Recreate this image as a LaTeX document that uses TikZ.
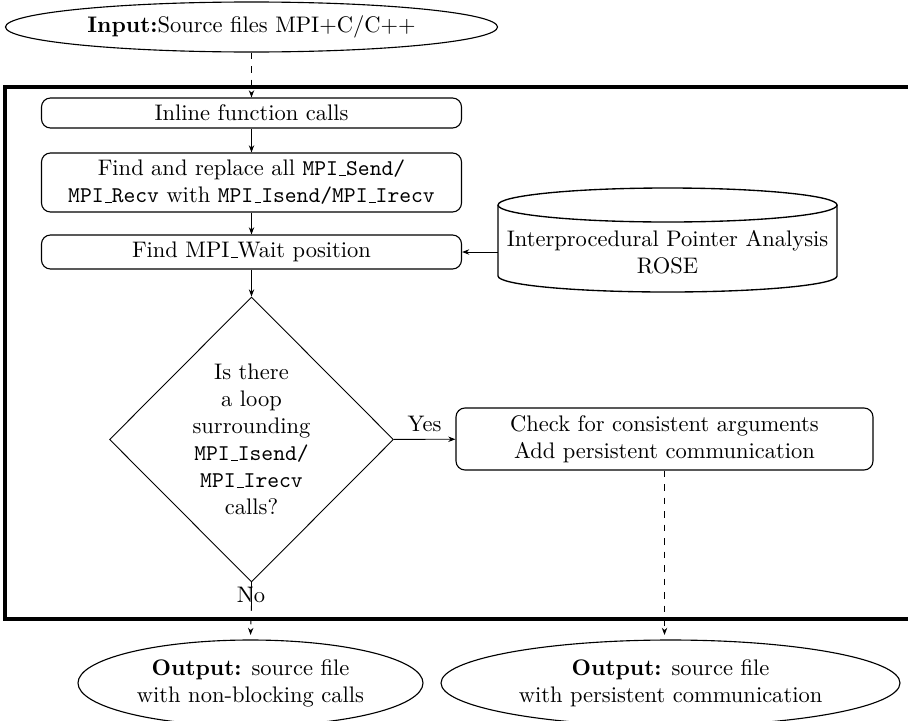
\documentclass[tikz,border=0pt]{standalone}
\usetikzlibrary{shapes.geometric,arrows.meta}
\def\u{0.4444pt}
% underscore drawn as a short baseline rule
\newcommand\usc{\leavevmode\kern.06em\vbox{\hrule width.3em}}
\begin{document}
\begin{tikzpicture}[x=\u, y=-\u,
  process/.style={draw, rounded corners=4pt, line width=0.5pt, inner sep=0pt, align=center},
  terminal/.style={draw, ellipse, line width=0.5pt, inner sep=0pt, align=center},
  decision/.style={draw, diamond, aspect=1, inner sep=0pt, align=center},
  flow/.style={-{Stealth[length=3.2pt,width=2.4pt]}},
  dashflow/.style={flow, dashed},
  frame/.style={line width=1.4pt}]
\useasboundingbox (0,0) rectangle (908,720);
\clip (0,0) rectangle (908,720);

% input
\node[terminal, minimum width=492*\u, minimum height=50*\u] (in) at (251.5,27)
  {\textbf{Input:}Source files MPI+C/C++};

% transformation steps
\node[process, minimum width=420*\u, minimum height=30*\u] (inl) at (251.5,113)
  {Inline function calls};
\node[process, minimum width=420*\u, minimum height=59*\u] (find) at (251.5,182.5)
  {Find and replace all \texttt{MPI\usc Send/}\\\texttt{MPI\usc Recv} with \texttt{MPI\usc Isend/MPI\usc Irecv}};
\node[process, minimum width=420*\u, minimum height=34*\u] (wait) at (251.5,252)
  {Find MPI\usc Wait position};

% pointer analysis database
\node[minimum width=339*\u, minimum height=71*\u, inner sep=0pt, align=center] (rose) at (667.5,252)
  {Interprocedural Pointer Analysis\\ROSE};
\draw[line width=0.6pt] (498,205) -- (498,276)
  arc[start angle=180, end angle=0, x radius=169.5, y radius=16] -- (837,205);
\draw[line width=0.6pt] (667.5,205) ellipse[x radius=169.5, y radius=17];

% decision
\node[decision, minimum width=284*\u, minimum height=285*\u] (dec) at (251.5,439.5)
  {Is there\\a loop\\surrounding\\\texttt{MPI\usc Isend/}\\\texttt{MPI\usc Irecv}\\calls?};
\node[process, minimum width=417*\u, minimum height=62*\u] (chk) at (664.5,439)
  {Check for consistent arguments\\Add persistent communication};

% outputs
\node[terminal, minimum width=345*\u, minimum height=86*\u] (out1) at (250.5,683)
  {\textbf{Output:} source file\\with non-blocking calls};
\node[terminal, minimum width=459*\u, minimum height=86*\u] (out2) at (670.5,683)
  {\textbf{Output:} source file\\with persistent communication};

% tool boundary
\draw[frame] (5,87) rectangle (920,619);

% connectors
\draw[dashflow] (in) -- (inl);
\draw[flow] (inl) -- (find);
\draw[flow] (find) -- (wait);
\draw[flow] (wait) -- (dec);
\draw[flow] (rose.west) -- (wait.east);
\draw[flow] (dec) -- node[above] {Yes} (chk);
\coordinate (nobreak) at (251.5,604);
\draw (dec.south) -- (nobreak);
\node[inner sep=0pt] (nolbl) at (251,595) {No};
\draw[dashflow] (nobreak) -- ([yshift=2pt]out1.north);
\draw[dashflow] (chk.south) -- ([yshift=2pt]chk.south |- out2.north);
\end{tikzpicture}
\end{document}
